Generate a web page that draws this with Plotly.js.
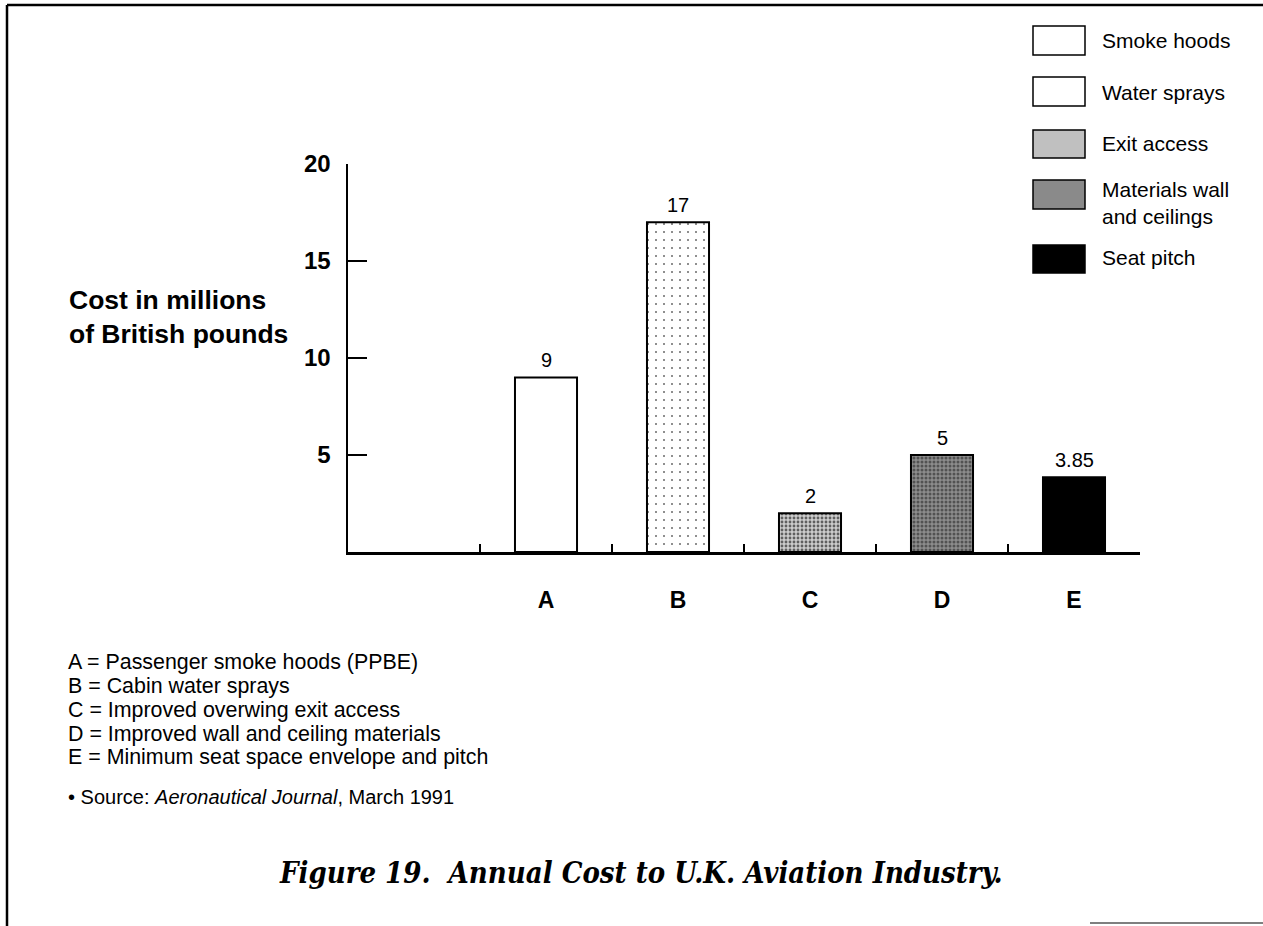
<!DOCTYPE html>
<html>
<head>
<meta charset="utf-8">
<script src="https://cdn.plot.ly/plotly-3.0.1.min.js"></script>
<style>html,body{margin:0;padding:0;background:#fff;}#chart{width:1263px;height:926px;}</style>
</head>
<body>
<div id="chart"></div>
<script>
// ---- data ----
const categories = ["A", "B", "C", "D", "E"];
const costs = [9, 17, 2, 5, 3.85];
const valueLabels = ["9", "17", "2", "5", "3.85"];
const yTickValues = [5, 10, 15, 20];
const legendNames = ["Smoke hoods", "Water sprays", "Exit access", "Materials wall<br>and ceilings", "Seat pitch"];
const notes = [
  "A = Passenger smoke hoods (PPBE)",
  "B = Cabin water sprays",
  "C = Improved overwing exit access",
  "D = Improved wall and ceiling materials",
  "E = Minimum seat space envelope and pitch"
];

// ---- styles ----
const barFill = ["#ffffff", "#ffffff", "#cccccc", "#8c8c8c", "#000000"];
const patShape = ["", ".", ".", ".", ""];
const patFg = ["#000000", "#bbbbbb", "#666666", "#333333", "#000000"];
const patSize = [4, 8, 4, 4, 4];
const patSolid = [0.1, 0.05, 0.4, 0.45, 0.1];
const legendFill = ["#ffffff", "#ffffff", "#c0c0c0", "#8a8a8a", "#000000"];

// plot area in pixels
const L = 348, R = 1140, T = 164, B = 552;
const W = R - L, H = B - T;
const px = x => (x - L) / W;
const py = y => (B - y) / H;

const sans = "Liberation Sans, Arial, Helvetica, sans-serif";

const trace = {
  type: "bar",
  x: categories,
  y: costs,
  width: 0.47,
  marker: {
    color: barFill,
    line: {color: "#000", width: 2},
    pattern: {shape: patShape, fgcolor: patFg, size: patSize, solidity: patSolid, fillmode: "overlay", fgopacity: 0.8}
  },
  hoverinfo: "x+y",
  cliponaxis: false
};

const annotations = [];
categories.forEach((c, i) => {
  annotations.push({x: c, y: costs[i], xref: "x", yref: "y", text: valueLabels[i], showarrow: false,
    yanchor: "bottom", yshift: 4, font: {family: sans, size: 20, color: "#000"}});
});
// y-axis title
annotations.push({xref: "paper", yref: "paper", x: px(67), y: py(317), xanchor: "left", yanchor: "middle", align: "left",
  text: "<b>Cost in millions</b><br><b>of British pounds</b>", showarrow: false,
  font: {family: sans, size: 26.5, color: "#000"}});
// legend
const legendBoxes = [[26, 55], [77, 106], [130, 158], [180, 209], [245, 273]];
const legendTextY = [40, 92, 143, 203, 257];
const shapes = [];
legendNames.forEach((n, i) => {
  shapes.push({type: "rect", xref: "paper", yref: "paper", x0: px(1033), x1: px(1085),
    y0: py(legendBoxes[i][1]), y1: py(legendBoxes[i][0]), fillcolor: legendFill[i],
    line: {color: "#000", width: 1.5}});
  annotations.push({xref: "paper", yref: "paper", x: px(1100), y: py(legendTextY[i]), xanchor: "left", yanchor: "middle",
    align: "left", text: n, showarrow: false, font: {family: sans, size: 21, color: "#000"}});
});
// notes
const noteY = [662, 686, 710, 734, 757];
notes.forEach((t, i) => {
  annotations.push({xref: "paper", yref: "paper", x: px(66), y: py(noteY[i]), xanchor: "left", yanchor: "middle",
    text: t, showarrow: false, font: {family: sans, size: 21.4, color: "#000"}});
});
annotations.push({xref: "paper", yref: "paper", x: px(66), y: py(797), xanchor: "left", yanchor: "middle",
  text: "• Source: <i>Aeronautical Journal</i>, March 1991", showarrow: false, font: {family: sans, size: 20, color: "#000"}});
// caption
annotations.push({xref: "paper", yref: "paper", x: px(640), y: py(873), xanchor: "center", yanchor: "middle",
  text: "<b><i>Figure 19.  Annual Cost to U.K. Aviation Industry.</i></b>", showarrow: false,
  font: {family: "DejaVu Serif Condensed, Liberation Serif, serif", size: 29, color: "#000"}});

// frame lines
shapes.push({type: "line", xref: "paper", yref: "paper", x0: px(7), x1: px(1263), y0: py(5), y1: py(5), line: {color: "#000", width: 2.5}});
shapes.push({type: "line", xref: "paper", yref: "paper", x0: px(7), x1: px(7), y0: py(5), y1: py(926), line: {color: "#000", width: 2.5}});
shapes.push({type: "line", xref: "paper", yref: "paper", x0: px(1090), x1: px(1263), y0: py(923), y1: py(923), line: {color: "#555", width: 1.5}});

const layout = {
  width: 1263, height: 926,
  margin: {l: L, r: 1263 - R, t: T, b: 926 - B, pad: 0},
  paper_bgcolor: "#fff", plot_bgcolor: "#fff",
  showlegend: false,
  xaxis: {
    type: "category", categoryarray: categories, range: [-1.5, 4.5],
    tickson: "boundaries", ticks: "inside", ticklen: 8, tickwidth: 2.5, tickcolor: "#000",
    showline: true, linewidth: 2.5, linecolor: "#000", showgrid: false, zeroline: false,
    tickfont: {family: sans, size: 23, color: "#000", weight: "bold"}, ticklabelstandoff: 26
  },
  yaxis: {
    range: [0, 20], tickmode: "array", tickvals: yTickValues,
    ticks: "inside", ticklen: 19, tickwidth: 2.5, tickcolor: "#000",
    showline: true, linewidth: 2.5, linecolor: "#000", showgrid: false, zeroline: false,
    tickfont: {family: sans, size: 24, color: "#000", weight: "bold"}, ticklabelstandoff: 10
  },
  shapes: shapes,
  annotations: annotations
};

Plotly.newPlot("chart", [trace], layout, {displayModeBar: false, staticPlot: true});
</script>
</body>
</html>
